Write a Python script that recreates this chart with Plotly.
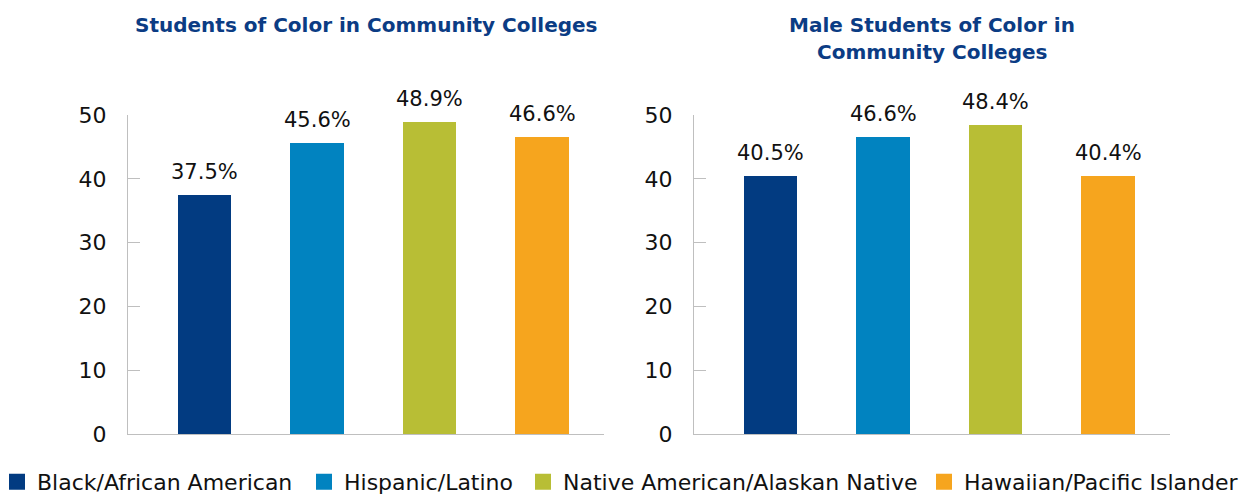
import plotly.graph_objects as go

categories = ["Black/African American", "Hispanic/Latino",
              "Native American/Alaskan Native", "Hawaiian/Pacific Islander"]
all_students = [37.5, 45.6, 48.9, 46.6]
male_students = [40.5, 46.6, 48.4, 40.4]
colors = ["#023B81", "#0183C0", "#B8BE35", "#F6A51E"]
y_ticks = [0, 10, 20, 30, 40, 50]
title_left = "Students of Color in Community Colleges"
title_right_lines = ["Male Students of Color in", "Community Colleges"]

FONT = "DejaVu Sans"
W, H = 1250, 496
xpos = list(range(len(categories)))
xr = [-0.68, 3.55]
legend_text_px = [37, 344, 563, 964]   # layout: left edge of each legend label

fig = go.Figure()
for vals, xa, ya in [(all_students, "x", "y"), (male_students, "x2", "y2")]:
    fig.add_trace(go.Bar(x=xpos, y=vals, marker=dict(color=colors, line=dict(width=0)),
                         width=0.475, showlegend=False, hoverinfo="y",
                         xaxis=xa, yaxis=ya))

legend_layouts = {}
for k, (name, c) in enumerate(zip(categories, colors)):
    lg = "legend" if k == 0 else f"legend{k + 1}"
    fig.add_trace(go.Scatter(x=[None], y=[None], mode="markers", name=name,
                             marker=dict(symbol="square", size=16, color=c),
                             xaxis="x", yaxis="y", legend=lg))
    legend_layouts[lg] = dict(orientation="h", x=(legend_text_px[k] - 40) / W,
                              xanchor="left", y=-0.15, yanchor="middle",
                              font=dict(family=FONT, size=22, color="#111111"),
                              itemclick=False, itemdoubleclick=False,
                              bgcolor="rgba(0,0,0,0)")

annotations = []
for vals, xa, ya in [(all_students, "x", "y"), (male_students, "x2", "y2")]:
    for i, v in enumerate(vals):
        annotations.append(dict(x=i, y=v, xref=xa, yref=ya, text=f"{v}%",
                                showarrow=False, yanchor="bottom", yshift=9,
                                font=dict(family=FONT, size=21, color="#111111")))

title_font = dict(family=FONT, size=20, color="#0B3C84")
annotations.append(dict(x=(128 + 604) / 2 / W, y=(434 - 25) / 319, xref="paper", yref="paper",
                        text=f"<b>{title_left}</b>", showarrow=False,
                        xanchor="center", yanchor="middle", font=title_font))
for k, line in enumerate(title_right_lines):
    annotations.append(dict(x=(694 + 1170) / 2 / W, y=(434 - 25 - 27 * k) / 319,
                            xref="paper", yref="paper", text=f"<b>{line}</b>",
                            showarrow=False, xanchor="center", yanchor="middle",
                            font=title_font))

axis_color = "#BFBFBF"
xcommon = dict(range=xr, showline=True, linecolor=axis_color, linewidth=1.3,
               showgrid=False, zeroline=False, showticklabels=False,
               ticks="inside", tickvals=[xr[1]], ticklen=9, tickcolor=axis_color,
               fixedrange=True, automargin=False)
ycommon = dict(range=[0, 50], tickvals=y_ticks, showline=True, linecolor=axis_color,
               linewidth=1.3, showgrid=False, zeroline=False, ticks="inside",
               ticklen=12, tickcolor=axis_color, tickwidth=1.3,
               ticklabelstandoff=16, automargin=False,
               tickfont=dict(family=FONT, size=22, color="#111111"), fixedrange=True)

fig.update_layout(
    width=W, height=H,
    margin=dict(l=0, r=0, t=115, b=62, autoexpand=False),
    plot_bgcolor="white", paper_bgcolor="white",
    xaxis=dict(domain=[128 / W, 604 / W], anchor="y", **xcommon),
    xaxis2=dict(domain=[694 / W, 1170 / W], anchor="y2", **xcommon),
    yaxis=dict(anchor="x", **ycommon),
    yaxis2=dict(anchor="x2", **ycommon),
    annotations=annotations,
    showlegend=True,
    bargap=0,
    **legend_layouts,
)

fig.write_html("out.html", config={"displayModeBar": False},
               post_script="document.body.style.margin='0';document.body.style.overflow='hidden';")
